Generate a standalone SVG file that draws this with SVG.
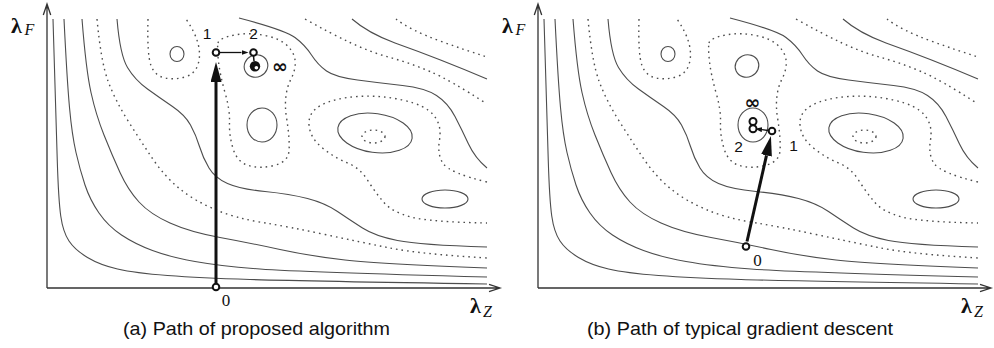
<svg xmlns="http://www.w3.org/2000/svg" xmlns:xlink="http://www.w3.org/1999/xlink" width="994" height="348" viewBox="0 0 994 348">
<style>
.c{fill:none;stroke:#4d4d4d;stroke-width:1.1}
.d{fill:none;stroke:#4d4d4d;stroke-width:1.4;stroke-dasharray:1.6 4}
.ax{fill:none;stroke:#333;stroke-width:1.3}
.pt{fill:#fff;stroke:#111;stroke-width:2}
.lam{font-family:"Liberation Serif",serif;font-weight:bold;font-size:22px;fill:#111}
.sub{font-family:"Liberation Serif",serif;font-style:italic;font-size:16px;fill:#111}
.cap{font-family:"Liberation Sans",sans-serif;font-size:19px;fill:#111}
.num{font-family:"Liberation Sans",sans-serif;font-size:15.5px;fill:#111}
.zero{font-family:"Liberation Serif",serif;font-size:17px;fill:#111}
.inf{font-family:"DejaVu Sans",sans-serif;font-weight:bold;font-size:19px;fill:#111}
</style>
<defs>
<marker id="big" viewBox="0 0 20 11" refX="0" refY="5.5" markerWidth="20" markerHeight="11" markerUnits="userSpaceOnUse" orient="auto"><path d="M0,0 L20,5.5 L0,11 Z" fill="#111"/></marker>
<marker id="small" viewBox="0 0 7 5" refX="0" refY="2.5" markerWidth="7" markerHeight="5" markerUnits="userSpaceOnUse" orient="auto"><path d="M0,0 L7,2.5 L0,5 Z" fill="#111"/></marker>
<g id="contours">
<path class="c" d="M53,19 Q56,120 57.25,160 Q58.5,200 60.75,216 Q63,232 69,241 Q75,250 87.5,257.5 Q100,265 117.5,269 Q135,273 167.5,275.5 Q200,278 250,279.5 Q300,281 487,284"/>
<path class="c" d="M64,19 Q67,80 69.5,107.5 Q72,135 76,152.5 Q80,170 85,185 Q90,200 99,213 Q108,226 121.5,235 Q135,244 152.5,250.5 Q170,257 195,261.5 Q220,266 260,269 Q300,272 487,277"/>
<path class="c" d="M82,19 Q86,70 91,92.5 Q96,115 104,135 Q112,155 120,172.5 Q128,190 139,202 Q150,214 170,223 Q190,232 220,237.5 Q250,243 280,249.5 Q310,256 345,260 Q380,264 487,268"/>
<path class="d" d="M97,19 Q101,62 108,81 Q115,100 127.5,120 Q140,140 152.5,158.5 Q165,177 180,189 Q195,201 215,209.5 Q235,218 262.5,222.5 Q290,227 325,234.5 Q360,242 390,248 Q420,254 487,258"/>
<path class="c" d="M117,19 Q120,55 127.5,67.5 Q135,80 147.5,89 Q160,98 172.5,106.5 Q185,115 190.5,125 Q196,135 199.5,146.5 Q203,158 209,168 Q215,178 227.5,183.5 Q240,189 265,191.5 Q290,194 307.5,198.5 Q325,203 337.5,211.5 Q350,220 362.5,228 Q375,236 397.5,240.5 Q420,245 487,247"/>
<path class="d" d="M148,19 Q147,55 151,65.5 Q155,76 165,78 Q175,80 185,77 Q195,74 198,64.5 Q201,55 198,43.5 Q195,32 186,19"/>
<ellipse class="c" cx="177" cy="54" rx="7" ry="7.5"/>
<path class="d" d="M218,43 Q219,38 234.5,35 Q250,32 267.5,36 Q285,40 292,51.5 Q299,63 291,79 Q283,95 286.5,117.5 Q290,140 289,151 Q288,162 274,165.5 Q260,169 248.5,165.5 Q237,162 233,148.5 Q229,135 229.5,122.5 Q230,110 225,92.5 Q220,75 218.5,61.5 Q217,48 218,43 Z"/>
<ellipse class="c" cx="256" cy="66" rx="12" ry="11" transform="rotate(-25 256 66)"/>
<ellipse class="c" cx="262" cy="125" rx="15" ry="17"/>
<path class="c" d="M239,18 Q285,30 295,37.5 Q305,45 311.5,55 Q318,65 326.5,71 Q335,77 357.5,80 Q380,83 402.5,85.5 Q425,88 436.5,95.5 Q448,103 455,116.5 Q462,130 468.5,144 Q475,158 487,168"/>
<path class="d" d="M305,19 Q330,33 350,42.5 Q370,52 390,57.5 Q410,63 430,71.5 Q450,80 487,104"/>
<path class="c" d="M352,19 Q368,33 395,43 Q440,59 487,79"/>
<path class="d" d="M396,19 Q410,30 440,41 Q465,50 487,57"/>
<path class="d" d="M487,182 Q450,173 443.5,164 Q437,155 439.5,140 Q442,125 433.5,115 Q425,105 402.5,100 Q380,95 357.5,96.5 Q335,98 321.5,105 Q308,112 309,125 Q310,138 322.5,148 Q335,158 347.5,163 Q360,168 367.5,180 Q375,192 383.5,202 Q392,212 411,217 Q430,222 487,223"/>
<ellipse class="c" cx="375" cy="133" rx="37.5" ry="19.5" transform="rotate(8 375 133)"/>
<ellipse class="d" cx="373.5" cy="136.5" rx="11.5" ry="6.5"/>
<ellipse class="c" cx="445" cy="199" rx="23" ry="9"/>
<path class="ax" d="M47,288 V4 M43.3,15 L47,4 L50.7,15"/>
<path class="ax" d="M47,288 H500 M489,284.3 L500,288 L489,291.7"/>
<text class="lam" x="11" y="33">λ</text><text class="sub" x="24.5" y="35">F</text>
<text class="lam" x="470" y="313">λ</text><text class="sub" x="483" y="317">Z</text>
</g>
</defs>
<g id="panel-a">
<use xlink:href="#contours" href="#contours"/>
<text class="cap" x="123" y="335" textLength="267" lengthAdjust="spacingAndGlyphs">(a) Path of proposed algorithm</text>
</g>
<g id="panel-b">
<use xlink:href="#contours" href="#contours" transform="translate(491,0)"/>
<text class="cap" x="587" y="335" textLength="306" lengthAdjust="spacingAndGlyphs">(b) Path of typical gradient descent</text>
</g>
<g id="connectors">
<line x1="216" y1="283" x2="216" y2="82" stroke="#111" stroke-width="3" marker-end="url(#big)"/>
<line x1="220" y1="52.5" x2="241.5" y2="52.5" stroke="#111" stroke-width="1.3" marker-end="url(#small)"/>
<line x1="253.5" y1="56" x2="254" y2="61" stroke="#111" stroke-width="1.5"/>
<line x1="747" y1="241.5" x2="766.5" y2="155.4" stroke="#111" stroke-width="3" marker-end="url(#big)"/>
<line x1="768" y1="130.5" x2="762" y2="129.7" stroke="#111" stroke-width="1.3" marker-end="url(#small)"/>
</g>
<g id="a-p0"><circle class="pt" cx="216" cy="287" r="3.3"/><text class="zero" x="226" y="306" text-anchor="middle">0</text></g>
<g id="a-p1"><circle class="pt" cx="216" cy="52.5" r="3.3"/><text class="num" x="207" y="38.5" text-anchor="middle">1</text></g>
<g id="a-p2"><circle class="pt" cx="253.5" cy="52.5" r="3.3"/><text class="num" x="253.5" y="38.5" text-anchor="middle">2</text></g>
<g id="a-pinf"><circle cx="255" cy="66.3" r="5.2" fill="#111"/><circle cx="256.4" cy="67.8" r="1.8" fill="#fff"/><text class="inf" x="280" y="72.5" text-anchor="middle">∞</text></g>
<g id="b-p0"><circle class="pt" cx="746" cy="246.5" r="3.3"/><text class="zero" x="757.5" y="265.5" text-anchor="middle">0</text></g>
<g id="b-p1"><circle class="pt" cx="772" cy="131" r="3.3"/><text class="num" x="793.5" y="150.5" text-anchor="middle">1</text></g>
<g id="b-p2"><circle class="pt" cx="753" cy="128.8" r="3.5" stroke-width="2.4"/><text class="num" x="738.5" y="151.5" text-anchor="middle">2</text></g>
<g id="b-pinf"><circle class="pt" cx="753" cy="121.5" r="3.5" stroke-width="2.4"/><text class="inf" x="752.5" y="109" text-anchor="middle">∞</text></g>
</svg>
